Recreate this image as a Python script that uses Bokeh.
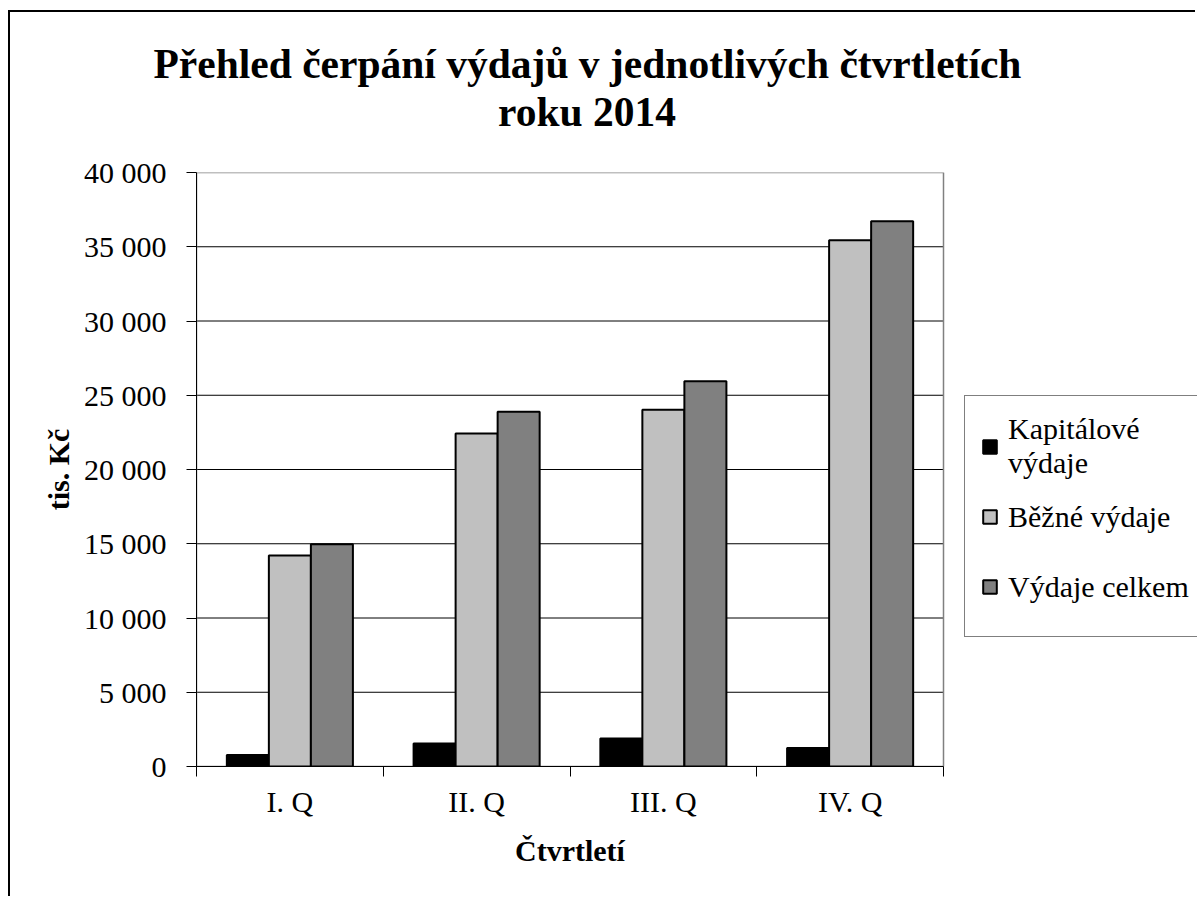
import numpy as np
from bokeh.plotting import figure
from bokeh.models import Range1d, FixedTicker, Legend, LegendItem, Title
from bokeh.embed import file_html
from bokeh.resources import INLINE

# ---------------- data ----------------
quarters = ["I. Q", "II. Q", "III. Q", "IV. Q"]
kapitalove_vydaje = [770, 1550, 1890, 1250]
bezne_vydaje = [14210, 22430, 24030, 35440]
vydaje_celkem = [14960, 23890, 25950, 36720]
series_labels = ["Kapitálové\nvýdaje", "Běžné výdaje", "Výdaje celkem"]
y_ticks = [0, 5000, 10000, 15000, 20000, 25000, 30000, 35000, 40000]
title_lines = ["Přehled čerpání výdajů v jednotlivých čtvrtletích", "roku 2014"]
y_title = "tis. Kč"
x_title = "Čtvrtletí"

# ---------------- geometry (pixels) ----------------
FONT = "Liberation Serif"
OX, OY = 10, 12                 # canvas origin on the page
W, H = 1187, 886                # canvas size
PL, PT, PR, PB = 196, 172, 943, 766   # plot area on the page
N = len(quarters)
Y_MAX = y_ticks[-1]
px_per_x = (PR - PL) / N
X_END = (OX + W - PL) / px_per_x     # frame reaches the right edge (legend lives there)

p = figure(width=W, height=H,
           x_range=Range1d(0, X_END), y_range=Range1d(0, Y_MAX),
           output_backend="svg", toolbar_location=None,
           min_border_left=PL - OX, min_border_right=0,
           min_border_top=PT - OY, min_border_bottom=OY + H - PB)
p.styles = {"margin-left": "8px", "margin-top": "10px",
            "border-top": "2px solid #000", "border-left": "2px solid #000"}
p.title.visible = False
p.background_fill_color = "white"
p.border_fill_color = "white"
p.outline_line_color = None
p.xgrid.visible = False
p.ygrid.visible = False

# horizontal gridlines and plot-area border (limited to the category span)
inner = y_ticks[1:-1]
p.segment(x0=[0] * len(inner), x1=[N] * len(inner), y0=inner, y1=inner,
          line_color="black", line_width=1)
p.quad(left=[0], right=[N], bottom=[0], top=[Y_MAX],
       fill_color=None, line_color="#808080", line_width=1.5)

xs = np.arange(N) + 0.5
bw = 0.225
offsets = [-bw, 0.0, bw]
colors = ["#000000", "#c0c0c0", "#808080"]
renderers = []
for vals, off, col in zip([kapitalove_vydaje, bezne_vydaje, vydaje_celkem], offsets, colors):
    r = p.vbar(x=xs + off, top=vals, bottom=0, width=bw,
               fill_color=col, line_color="black", line_width=2)
    renderers.append(r)

# x axis: labels at category centres, ticks at category boundaries
xa = p.xaxis[0]
xa.bounds = (0, N)
xa.ticker = FixedTicker(ticks=list(xs), minor_ticks=list(range(N + 1)))
xa.major_label_overrides = {float(x): q for x, q in zip(xs, quarters)}
xa.major_tick_out = 0
xa.major_tick_in = 0
xa.minor_tick_out = 10
xa.minor_tick_in = 0
xa.minor_tick_line_color = "black"
xa.axis_line_color = "black"
xa.major_label_text_font = FONT
xa.major_label_text_font_size = "30px"
xa.major_label_text_color = "black"
xa.major_label_standoff = 8

ya = p.yaxis[0]
ya.bounds = (0, Y_MAX)
ya.ticker = FixedTicker(ticks=y_ticks, minor_ticks=[])
ya.major_label_overrides = {t: f"{t:,}".replace(",", " ") for t in y_ticks}
ya.major_tick_out = 10
ya.major_tick_in = 0
ya.minor_tick_out = 0
ya.minor_tick_in = 0
ya.major_tick_line_color = "black"
ya.axis_line_color = "black"
ya.major_label_text_font = FONT
ya.major_label_text_font_size = "30px"
ya.major_label_text_color = "black"
ya.major_label_standoff = 20
ya.axis_label = y_title
ya.axis_label_text_font = FONT
ya.axis_label_text_font_size = "30px"
ya.axis_label_text_font_style = "bold"
ya.axis_label_text_color = "black"
ya.axis_label_standoff = 6

# x axis title, centred under the category span (offset from the frame's left edge)
x_title_w = 110
p.add_layout(Title(text=x_title, align="left", offset=(PR - PL) / 2 - x_title_w / 2,
                   vertical_align="top", standoff=26,
                   text_font=FONT, text_font_size="30px", text_font_style="bold",
                   text_color="black"), "below")

# chart title: blank spacer next to the frame, then second line, then first line
p.add_layout(Title(text=" ", text_color="white", text_font_size="2px", standoff=34), "above")
title_cx = 587 - PL
title_widths = [868, 179]
for line, w in zip(title_lines[::-1], title_widths[::-1]):
    p.add_layout(Title(text=line, align="left", offset=title_cx - w / 2,
                       vertical_align="bottom", standoff=0,
                       text_font=FONT, text_font_size="41.5px",
                       text_font_style="bold", text_color="black"), "above")

legend = Legend(items=[LegendItem(label=lab, renderers=[r])
                       for lab, r in zip(series_labels, renderers)],
                location=(964 - PL, PB - 637),
                orientation="vertical", margin=0, padding=16, spacing=3,
                glyph_width=17, glyph_height=17, label_standoff=10,
                label_width=215, label_height=67,
                label_text_font=FONT, label_text_font_size="30px",
                label_text_color="black",
                border_line_color="black", border_line_width=1,
                background_fill_color="white", background_fill_alpha=1.0)
p.add_layout(legend)

open("out.html", "w").write(file_html(p, INLINE))
